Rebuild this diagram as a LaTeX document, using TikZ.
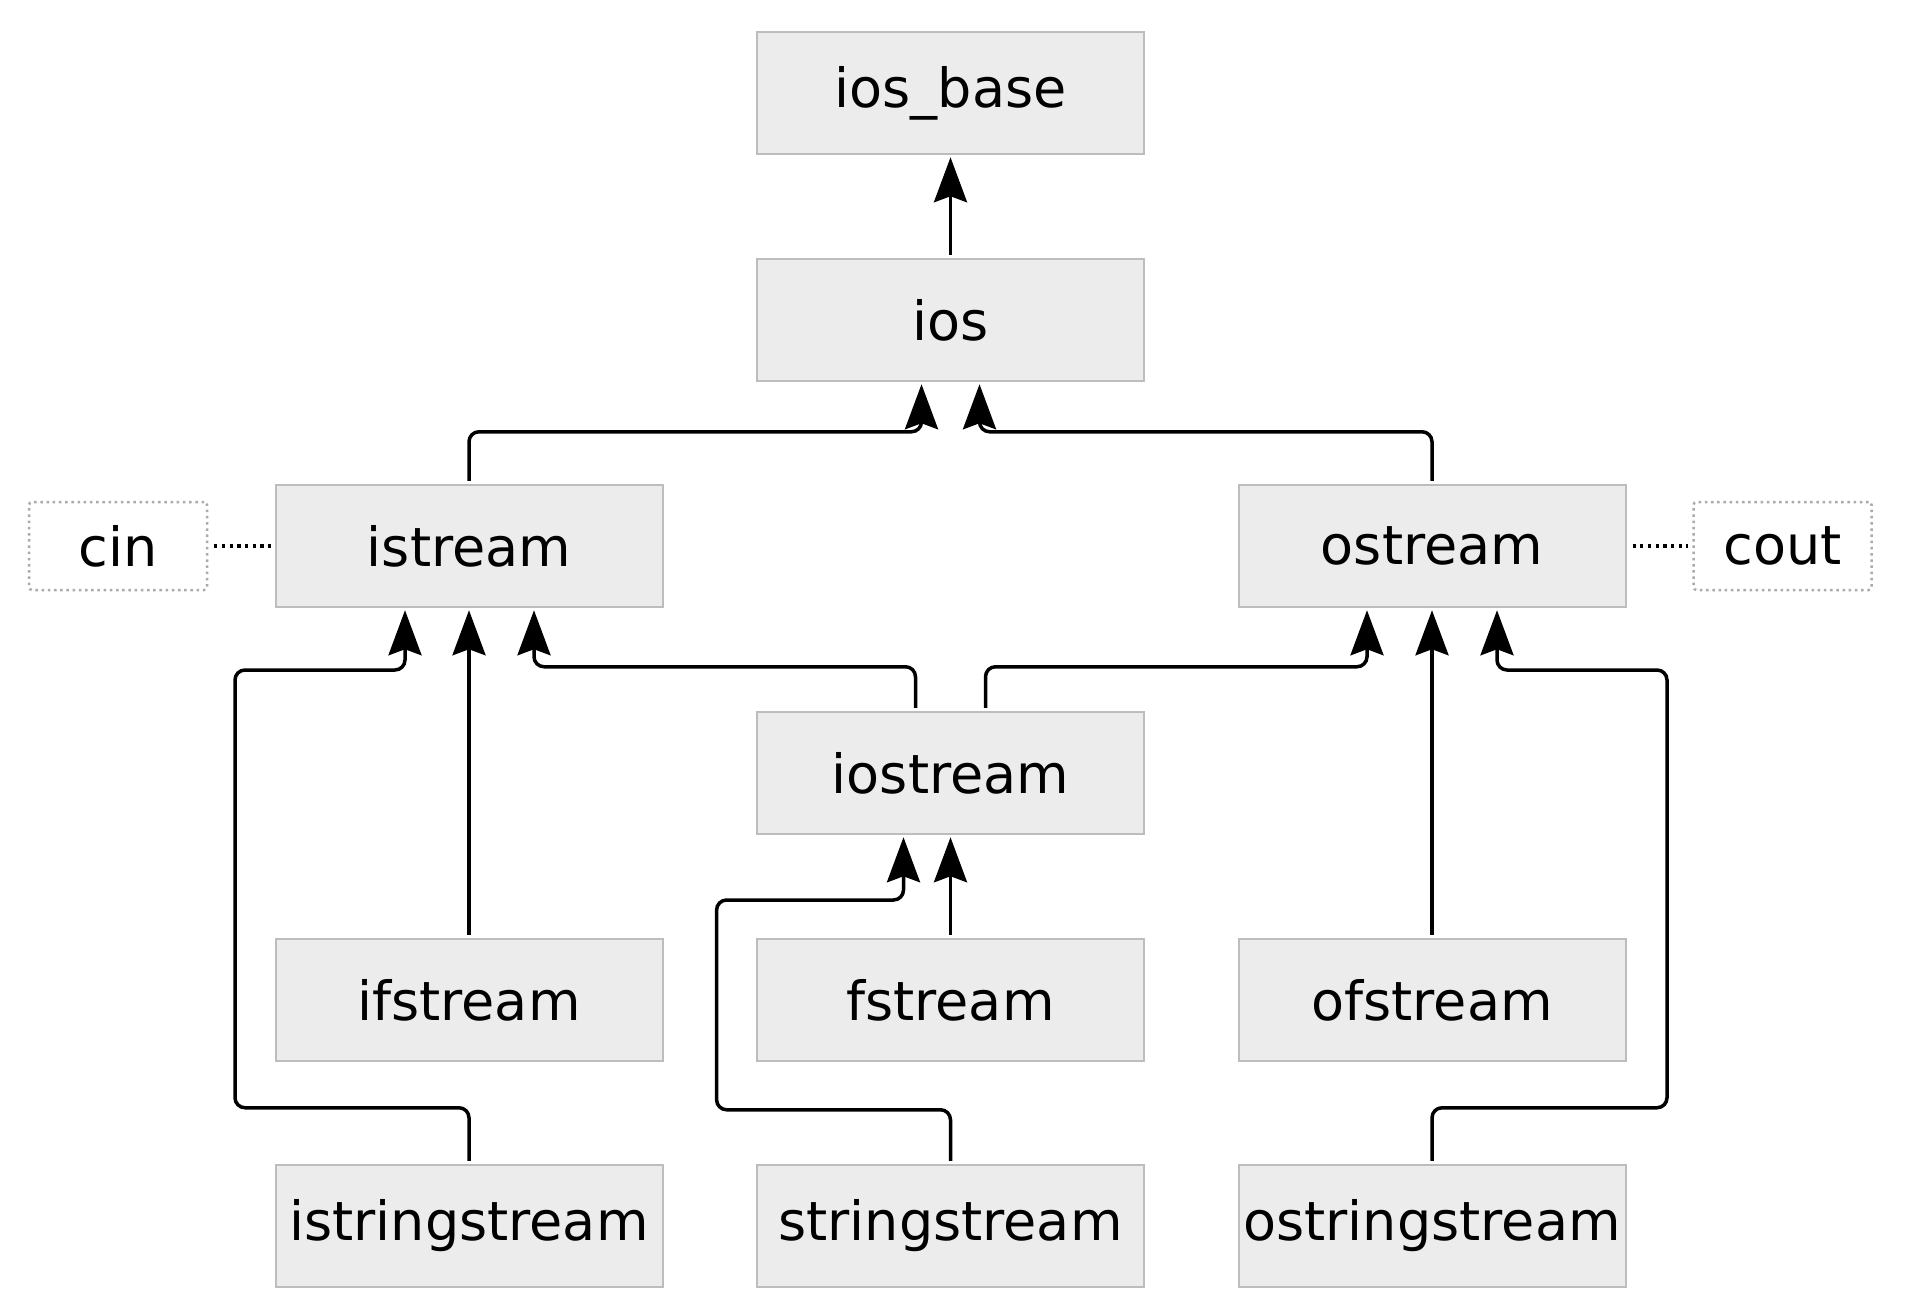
\documentclass[tikz,border=0pt]{standalone}
\usepackage{fontspec}
\setmainfont{DejaVu Sans}
\usetikzlibrary{arrows.meta,calc}
\definecolor{boxfill}{HTML}{ECECEC}
\definecolor{boxgray}{HTML}{BDBDBD}
\definecolor{dotgray}{HTML}{AAAAAA}
\begin{document}
\begin{tikzpicture}[x=1pt,y=-1pt,
  lbl/.style={font=\fontsize{54}{60}\selectfont},
  cls/.style={lbl,draw=boxgray,fill=boxfill,line width=2pt,minimum width=387pt,minimum height=122.5pt,inner sep=0pt},
  obj/.style={lbl,draw=dotgray,line width=2.5pt,dash pattern=on 2.5pt off 3.7pt,rounded corners=3pt,minimum width=178pt,minimum height=88pt,inner sep=0pt},
  arr/.style={-{Stealth[length=45pt,width=33pt,inset=6pt]},line width=3.5pt,rounded corners=10pt,shorten <=3pt,shorten >=2pt},
  link/.style={line width=3.5pt,dash pattern=on 3.2pt off 4.5pt,shorten <=6pt,shorten >=4pt}]
\useasboundingbox (0,0) rectangle (1920,1306);
\node[cls] (iosbase) at (950.5,93) {ios\_base};
\node[cls] (ios) at (950.5,320) {ios};
\node[cls] (istream) at (469,546) {istream};
\node[cls] (ostream) at (1432,546) {ostream};
\node[cls] (iostream) at (950.5,773) {iostream};
\node[cls] (ifstream) at (469,1000) {ifstream};
\node[cls] (fstream) at (950.5,1000) {fstream};
\node[cls] (ofstream) at (1432,1000) {ofstream};
\node[cls] (isstream) at (469,1226) {istringstream};
\node[cls] (sstream) at (950.5,1226) {stringstream};
\node[cls] (osstream) at (1432,1226) {ostringstream};
\node[obj] (cin) at (118,546) {cin};
\node[obj] (cout) at (1782.5,546) {cout};
\coordinate (lbend) at (235,670);
\coordinate (sbend) at (716.6,900);
\coordinate (obend) at (1667,670);
\draw[arr] (ios.north) -- (iosbase.south);
\draw[arr] (istream.north) -- ++(0,-52) -| ($(ios.south)+(-29,0)$);
\draw[arr] (ostream.north) -- ++(0,-52) -| ($(ios.south)+(29,0)$);
\draw[arr] ($(iostream.north)+(-35,0)$) -- ++(0,-44) -| ($(istream.south)+(65,0)$);
\draw[arr] ($(iostream.north)+(35,0)$) -- ++(0,-44) -| ($(ostream.south)+(-65,0)$);
\draw[arr] (ifstream.north) -- (istream.south);
\draw[arr] (fstream.north) -- (iostream.south);
\draw[arr] (ofstream.north) -- (ostream.south);
\draw[arr] (isstream.north) -- ++(0,-56) -| (lbend) -| ($(istream.south)+(-64,0)$);
\draw[arr] (sstream.north) -- ++(0,-54) -| (sbend) -| ($(iostream.south)+(-47,0)$);
\draw[arr] (osstream.north) -- ++(0,-56) -| (obend) -| ($(ostream.south)+(65,0)$);
\draw[link] (cin) -- (istream);
\draw[link] (ostream) -- (cout);
\end{tikzpicture}
\end{document}
